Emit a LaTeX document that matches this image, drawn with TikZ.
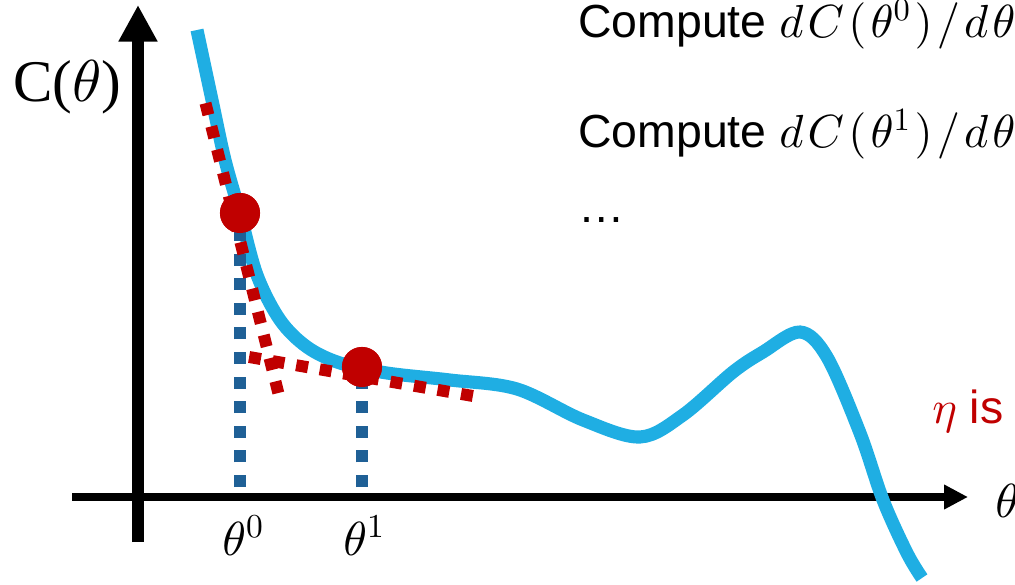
\documentclass[tikz,border=0pt]{standalone}
\DeclareFontShape{OML}{cmm}{m}{it}{<->cmmi10}{}
\DeclareFontShape{OT1}{cmr}{m}{n}{<->cmr10}{}
\DeclareFontShape{OMS}{cmsy}{m}{n}{<->cmsy10}{}
\DeclareFontShape{OMX}{cmex}{m}{n}{<->cmex10}{}
\usepackage{fontspec}
\setmainfont{Liberation Serif}
\newfontfamily\arialf{Liberation Sans}
\usetikzlibrary{arrows.meta}
\definecolor{curveblue}{RGB}{31,174,227}
\definecolor{dred}{RGB}{192,0,0}
\definecolor{dblue}{RGB}{31,96,150}
\newcommand\gk{\mkern1.6mu}
\begin{document}
\begin{tikzpicture}[x=0.025cm,y=-0.025cm,
  txt/.style={font=\arialf\fontsize{33}{40}\selectfont, inner sep=0pt, anchor=base west},
  serlab/.style={font=\fontsize{34}{40}\selectfont, inner sep=0pt, anchor=base west},
  axis/.style={draw=black, line width=#1},
  curve/.style={draw=curveblue, line width=9.3pt},
  reddots/.style={draw=dred, line width=8.5pt, dash pattern=on 8.5pt off 8.5pt},
  bluedots/.style={draw=dblue, line width=8pt, dash pattern=on 8.5pt off 9pt},
  pt/.style={circle, fill=dred, minimum size=28.5pt, inner sep=0pt}]
\useasboundingbox (0,0) rectangle (1015,585);
\clip (0,0) rectangle (1015,585);
% axes
\coordinate (ybot) at (138,542);
\coordinate (ytop) at (138,5);
\coordinate (xl) at (72,497);
\coordinate (xr) at (968,497);
\draw[axis=9.2pt, -{Triangle[length=26pt,width=26pt]}] (ybot) -- (ytop);
\draw[axis=5.3pt, -{Triangle[length=17pt,width=16.5pt]}] (xl) -- (xr);
% curve
\draw[curve] plot[smooth, tension=0.55] coordinates {(197,30) (212,100) (225,160) (240,213) (257,275) (280,320) (307,347) (340,363) (387,373) (450,380) (517,389) (583,420) (640,437) (683,415) (733,372) (763,352) (800,332) (827,357) (860,433) (883,500) (907,553) (922,578)};
% points
\node[pt] (p0) at (240,213) {};
\node[pt] (p1) at (362,367) {};
\coordinate (f0) at (240,487);
\coordinate (f1) at (362,487);
\draw[bluedots] (f0) -- (p0.center);
\draw[bluedots] (f1) -- (p1.center);
% tangents
\coordinate (t0a) at (205.5,103.2);
\coordinate (t0b) at (278.5,393.8);
\coordinate (t1a) at (249.1,357);
\coordinate (t1b) at (472.9,396);
\draw[reddots] (t0a) -- (t0b);
\draw[reddots] (t1a) -- (t1b);
\node[pt] at (p0) {};
\node[pt] at (p1) {};
% labels
\node[serlab, font=\fontsize{42}{50}\selectfont] (cl) at (13,101) {C($\theta$)};
\node[serlab] (th0) at (222,555) {$\theta^{0}$};
\node[serlab] (th1) at (343,555) {$\theta^{1}$};
\node[serlab] (thx) at (995,517) {$\theta$};
\node[txt] (c0) at (578,37) {Compute $d\gk C\gk(\gk\theta^0\gk)\gk/\gk d\gk\theta$};
\node[txt] (c1) at (578,147) {Compute $d\gk C\gk(\gk\theta^1\gk)\gk/\gk d\gk\theta$};
\node[txt] (dots) at (578,222) {\dots};
\node[txt, text=dred] (eta) at (932,423) {$\eta$ is};
\end{tikzpicture}
\end{document}
